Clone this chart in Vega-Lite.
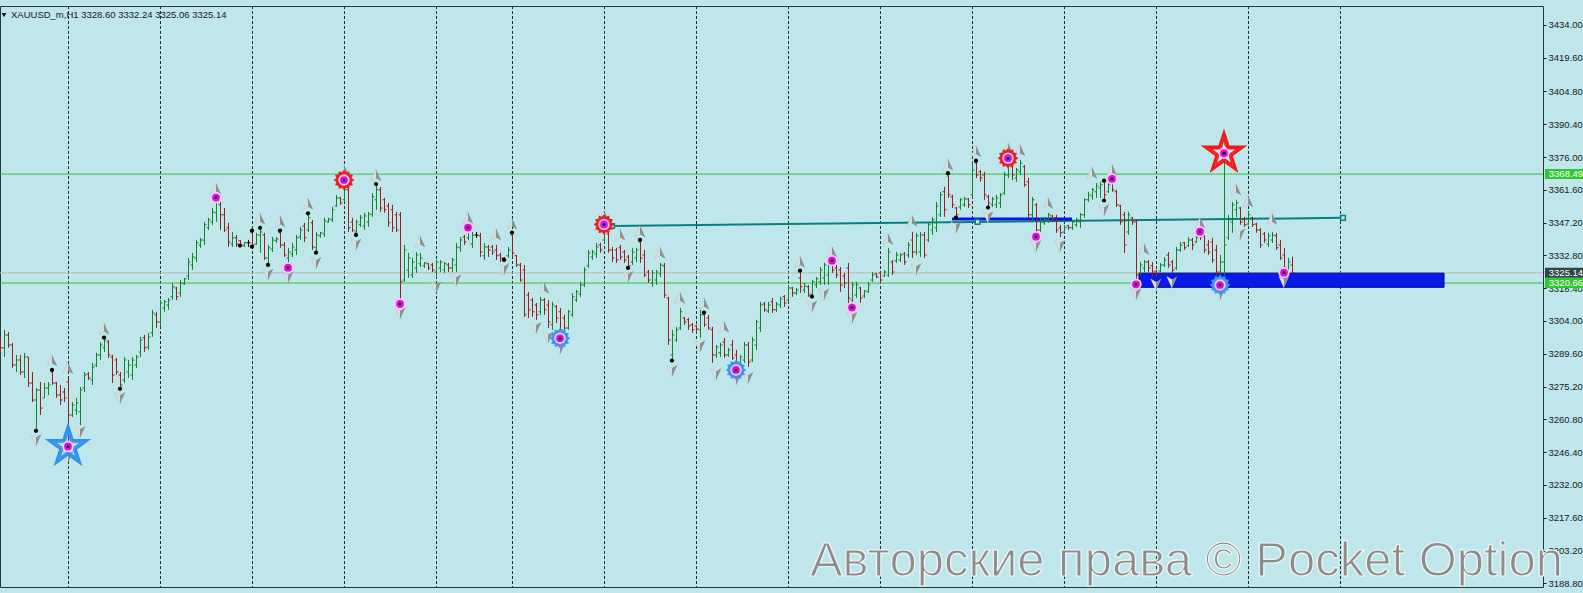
{
"$schema":"https://vega.github.io/schema/vega-lite/v6.json",
"width":1543,"height":581,
"autosize":{"type":"none"},
"padding":{"left":0,"top":6,"right":40,"bottom":6},
"background":"#bfe6ea",
"config":{"view":{"stroke":"#243a3a","strokeWidth":1},"font":"Liberation Sans"},
"resolve":{"axis":{"y":"independent","x":"independent"}},
"datasets":{
"bars":[
{"bar":0,"open":3295.7,"high":3296.6,"low":3290.4,"close":3292.2},
{"bar":1,"open":3292.2,"high":3300.1,"low":3288.2,"close":3297.9},
{"bar":2,"open":3297.9,"high":3299.2,"low":3292.2,"close":3293.5},
{"bar":3,"open":3293.5,"high":3294.4,"low":3283.4,"close":3284.7},
{"bar":4,"open":3284.7,"high":3289.1,"low":3281.6,"close":3286.9},
{"bar":5,"open":3286.9,"high":3289.1,"low":3280.3,"close":3281.6},
{"bar":6,"open":3281.6,"high":3290.0,"low":3279.0,"close":3288.2},
{"bar":7,"open":3288.2,"high":3288.2,"low":3275.0,"close":3276.8},
{"bar":8,"open":3276.8,"high":3281.6,"low":3268.4,"close":3269.3},
{"bar":9,"open":3269.3,"high":3274.6,"low":3255.3,"close":3273.7},
{"bar":10,"open":3273.7,"high":3277.2,"low":3262.7,"close":3265.8},
{"bar":11,"open":3270.2,"high":3276.8,"low":3270.2,"close":3274.6},
{"bar":12,"open":3274.6,"high":3277.2,"low":3271.5,"close":3275.9},
{"bar":13,"open":3281.6,"high":3282.5,"low":3275.9,"close":3276.8},
{"bar":14,"open":3276.8,"high":3277.2,"low":3270.2,"close":3271.5},
{"bar":15,"open":3271.5,"high":3275.9,"low":3267.1,"close":3269.3},
{"bar":16,"open":3272.8,"high":3274.6,"low":3268.4,"close":3270.2},
{"bar":17,"open":3277.2,"high":3279.0,"low":3248.9,"close":3262.7},
{"bar":18,"open":3262.7,"high":3268.4,"low":3261.8,"close":3267.1},
{"bar":19,"open":3264.9,"high":3270.2,"low":3262.7,"close":3268.0},
{"bar":20,"open":3264.1,"high":3275.0,"low":3258.3,"close":3273.7},
{"bar":21,"open":3274.6,"high":3281.6,"low":3272.8,"close":3280.3},
{"bar":22,"open":3280.7,"high":3281.6,"low":3278.1,"close":3279.0},
{"bar":23,"open":3278.1,"high":3285.6,"low":3275.9,"close":3283.8},
{"bar":24,"open":3284.7,"high":3290.0,"low":3283.8,"close":3289.1},
{"bar":25,"open":3289.1,"high":3294.8,"low":3286.9,"close":3293.5},
{"bar":26,"open":3292.2,"high":3296.6,"low":3290.4,"close":3295.7},
{"bar":27,"open":3294.8,"high":3295.7,"low":3287.8,"close":3289.1},
{"bar":28,"open":3288.2,"high":3289.1,"low":3276.8,"close":3280.3},
{"bar":29,"open":3286.9,"high":3287.8,"low":3280.3,"close":3281.6},
{"bar":30,"open":3280.3,"high":3281.6,"low":3274.2,"close":3275.9},
{"bar":31,"open":3278.1,"high":3288.2,"low":3276.8,"close":3286.9},
{"bar":32,"open":3281.6,"high":3286.9,"low":3279.0,"close":3284.7},
{"bar":33,"open":3280.3,"high":3288.2,"low":3278.1,"close":3286.9},
{"bar":34,"open":3284.7,"high":3289.1,"low":3283.4,"close":3288.2},
{"bar":35,"open":3290.4,"high":3297.0,"low":3288.2,"close":3295.7},
{"bar":36,"open":3296.6,"high":3297.9,"low":3290.4,"close":3292.2},
{"bar":37,"open":3292.6,"high":3298.8,"low":3291.3,"close":3297.0},
{"bar":38,"open":3298.8,"high":3308.9,"low":3297.0,"close":3307.5},
{"bar":39,"open":3306.7,"high":3308.0,"low":3300.9,"close":3303.6},
{"bar":40,"open":3303.6,"high":3313.2,"low":3301.4,"close":3311.9},
{"bar":41,"open":3309.7,"high":3313.2,"low":3308.0,"close":3312.4},
{"bar":42,"open":3311.0,"high":3314.1,"low":3308.9,"close":3313.2},
{"bar":43,"open":3314.6,"high":3320.7,"low":3313.2,"close":3319.0},
{"bar":44,"open":3318.5,"high":3319.0,"low":3313.2,"close":3314.6},
{"bar":45,"open":3316.3,"high":3322.0,"low":3314.6,"close":3320.7},
{"bar":46,"open":3320.3,"high":3322.9,"low":3319.8,"close":3322.5},
{"bar":47,"open":3323.8,"high":3331.7,"low":3322.0,"close":3329.9},
{"bar":48,"open":3328.6,"high":3333.9,"low":3326.4,"close":3332.1},
{"bar":49,"open":3331.7,"high":3339.6,"low":3329.9,"close":3338.3},
{"bar":50,"open":3337.4,"high":3340.5,"low":3336.1,"close":3339.6},
{"bar":51,"open":3339.6,"high":3347.5,"low":3337.4,"close":3346.2},
{"bar":52,"open":3344.9,"high":3349.3,"low":3344.0,"close":3348.4},
{"bar":53,"open":3347.5,"high":3353.6,"low":3346.2,"close":3351.9},
{"bar":54,"open":3351.5,"high":3358.5,"low":3347.5,"close":3356.3},
{"bar":55,"open":3355.0,"high":3356.3,"low":3344.0,"close":3350.6},
{"bar":56,"open":3350.6,"high":3353.6,"low":3343.1,"close":3344.0},
{"bar":57,"open":3344.9,"high":3347.1,"low":3336.5,"close":3338.7},
{"bar":58,"open":3337.8,"high":3343.1,"low":3336.5,"close":3340.5},
{"bar":59,"open":3340.5,"high":3341.8,"low":3336.5,"close":3337.8},
{"bar":60,"open":3339.2,"high":3339.6,"low":3337.0,"close":3337.4},
{"bar":61,"open":3337.0,"high":3338.7,"low":3336.5,"close":3338.3},
{"bar":62,"open":3338.3,"high":3339.6,"low":3336.5,"close":3338.3},
{"bar":63,"open":3342.7,"high":3344.0,"low":3336.5,"close":3337.4},
{"bar":64,"open":3337.8,"high":3342.7,"low":3337.4,"close":3341.8},
{"bar":65,"open":3341.8,"high":3344.9,"low":3333.9,"close":3343.1},
{"bar":66,"open":3341.8,"high":3342.7,"low":3330.8,"close":3331.7},
{"bar":67,"open":3331.7,"high":3337.4,"low":3328.6,"close":3336.1},
{"bar":68,"open":3335.6,"high":3340.9,"low":3334.3,"close":3339.6},
{"bar":69,"open":3339.2,"high":3340.9,"low":3338.3,"close":3340.0},
{"bar":70,"open":3342.7,"high":3344.0,"low":3336.1,"close":3337.4},
{"bar":71,"open":3337.4,"high":3338.7,"low":3332.1,"close":3333.0},
{"bar":72,"open":3331.7,"high":3336.1,"low":3327.3,"close":3334.3},
{"bar":73,"open":3333.4,"high":3338.3,"low":3332.1,"close":3336.5},
{"bar":74,"open":3335.2,"high":3341.8,"low":3333.0,"close":3340.5},
{"bar":75,"open":3340.9,"high":3345.3,"low":3339.6,"close":3344.0},
{"bar":76,"open":3345.7,"high":3347.1,"low":3338.7,"close":3340.5},
{"bar":77,"open":3344.0,"high":3351.5,"low":3343.1,"close":3349.3},
{"bar":78,"open":3347.1,"high":3348.4,"low":3335.2,"close":3336.5},
{"bar":79,"open":3336.1,"high":3343.1,"low":3333.9,"close":3341.8},
{"bar":80,"open":3341.4,"high":3343.1,"low":3340.5,"close":3342.7},
{"bar":81,"open":3342.2,"high":3349.3,"low":3340.9,"close":3347.9},
{"bar":82,"open":3347.5,"high":3349.3,"low":3347.1,"close":3348.8},
{"bar":83,"open":3348.4,"high":3354.1,"low":3347.5,"close":3352.8},
{"bar":84,"open":3354.5,"high":3359.4,"low":3354.1,"close":3358.0},
{"bar":85,"open":3358.0,"high":3358.5,"low":3355.0,"close":3355.8},
{"bar":86,"open":3357.2,"high":3365.9,"low":3356.3,"close":3361.6},
{"bar":87,"open":3361.6,"high":3362.4,"low":3343.1,"close":3344.9},
{"bar":88,"open":3347.5,"high":3349.3,"low":3343.1,"close":3344.0},
{"bar":89,"open":3343.1,"high":3348.4,"low":3341.8,"close":3347.5},
{"bar":90,"open":3346.2,"high":3350.6,"low":3345.3,"close":3349.3},
{"bar":91,"open":3345.7,"high":3351.5,"low":3344.0,"close":3350.1},
{"bar":92,"open":3347.5,"high":3351.9,"low":3345.3,"close":3351.0},
{"bar":93,"open":3350.6,"high":3360.2,"low":3349.7,"close":3358.5},
{"bar":94,"open":3357.2,"high":3364.2,"low":3352.8,"close":3361.6},
{"bar":95,"open":3361.6,"high":3362.9,"low":3351.9,"close":3353.6},
{"bar":96,"open":3357.2,"high":3358.0,"low":3351.5,"close":3352.8},
{"bar":97,"open":3354.5,"high":3355.8,"low":3345.3,"close":3347.1},
{"bar":98,"open":3352.8,"high":3355.0,"low":3343.1,"close":3344.9},
{"bar":99,"open":3350.6,"high":3351.9,"low":3343.1,"close":3344.0},
{"bar":100,"open":3350.6,"high":3351.9,"low":3311.5,"close":3321.2},
{"bar":101,"open":3322.0,"high":3337.4,"low":3321.2,"close":3335.2},
{"bar":102,"open":3326.4,"high":3333.9,"low":3322.9,"close":3331.7},
{"bar":103,"open":3324.2,"high":3331.7,"low":3322.9,"close":3329.9},
{"bar":104,"open":3327.3,"high":3334.3,"low":3325.1,"close":3333.0},
{"bar":105,"open":3329.1,"high":3333.9,"low":3327.7,"close":3331.7},
{"bar":106,"open":3328.2,"high":3329.9,"low":3327.3,"close":3329.5},
{"bar":107,"open":3329.1,"high":3329.5,"low":3326.4,"close":3327.3},
{"bar":108,"open":3328.6,"high":3329.5,"low":3325.5,"close":3326.4},
{"bar":109,"open":3325.5,"high":3330.8,"low":3322.9,"close":3329.9},
{"bar":110,"open":3327.3,"high":3330.8,"low":3325.5,"close":3329.9},
{"bar":111,"open":3326.4,"high":3329.9,"low":3325.1,"close":3329.1},
{"bar":112,"open":3328.6,"high":3329.5,"low":3325.5,"close":3327.3},
{"bar":113,"open":3327.3,"high":3331.7,"low":3325.5,"close":3330.8},
{"bar":114,"open":3328.6,"high":3338.3,"low":3325.5,"close":3336.5},
{"bar":115,"open":3336.1,"high":3340.9,"low":3334.3,"close":3339.6},
{"bar":116,"open":3340.9,"high":3341.8,"low":3337.4,"close":3338.7},
{"bar":117,"open":3340.5,"high":3345.3,"low":3339.6,"close":3344.0},
{"bar":118,"open":3337.8,"high":3343.1,"low":3336.1,"close":3341.8},
{"bar":119,"open":3341.8,"high":3343.1,"low":3340.5,"close":3341.8},
{"bar":120,"open":3341.4,"high":3342.7,"low":3332.1,"close":3334.3},
{"bar":121,"open":3332.6,"high":3338.3,"low":3330.8,"close":3336.5},
{"bar":122,"open":3336.5,"high":3337.4,"low":3332.1,"close":3335.2},
{"bar":123,"open":3336.5,"high":3337.4,"low":3333.0,"close":3334.3},
{"bar":124,"open":3335.2,"high":3337.4,"low":3330.8,"close":3332.6},
{"bar":125,"open":3333.0,"high":3333.9,"low":3329.9,"close":3331.7},
{"bar":126,"open":3331.7,"high":3332.1,"low":3329.9,"close":3330.8},
{"bar":127,"open":3332.6,"high":3336.5,"low":3331.7,"close":3335.2},
{"bar":128,"open":3341.8,"high":3343.1,"low":3332.1,"close":3333.9},
{"bar":129,"open":3332.6,"high":3333.0,"low":3327.7,"close":3328.6},
{"bar":130,"open":3328.6,"high":3329.5,"low":3321.2,"close":3322.0},
{"bar":131,"open":3326.4,"high":3328.6,"low":3305.8,"close":3306.7},
{"bar":132,"open":3315.4,"high":3316.8,"low":3305.3,"close":3308.9},
{"bar":133,"open":3313.2,"high":3314.1,"low":3305.8,"close":3308.0},
{"bar":134,"open":3311.0,"high":3311.9,"low":3304.5,"close":3306.7},
{"bar":135,"open":3308.0,"high":3314.6,"low":3306.7,"close":3313.2},
{"bar":136,"open":3313.2,"high":3314.1,"low":3306.7,"close":3308.9},
{"bar":137,"open":3311.0,"high":3313.2,"low":3300.9,"close":3303.6},
{"bar":138,"open":3302.3,"high":3312.4,"low":3300.1,"close":3311.0},
{"bar":139,"open":3310.2,"high":3311.0,"low":3303.1,"close":3305.3},
{"bar":140,"open":3308.0,"high":3309.7,"low":3296.4,"close":3300.1},
{"bar":141,"open":3305.3,"high":3306.7,"low":3299.2,"close":3300.9},
{"bar":142,"open":3300.9,"high":3308.9,"low":3300.1,"close":3308.0},
{"bar":143,"open":3306.7,"high":3316.3,"low":3305.8,"close":3314.6},
{"bar":144,"open":3313.2,"high":3317.6,"low":3312.4,"close":3316.8},
{"bar":145,"open":3315.9,"high":3321.2,"low":3314.6,"close":3319.8},
{"bar":146,"open":3319.8,"high":3327.7,"low":3319.0,"close":3326.4},
{"bar":147,"open":3328.2,"high":3335.2,"low":3327.3,"close":3333.9},
{"bar":148,"open":3332.1,"high":3335.2,"low":3330.8,"close":3334.3},
{"bar":149,"open":3333.4,"high":3338.3,"low":3331.7,"close":3336.5},
{"bar":150,"open":3337.4,"high":3338.3,"low":3333.9,"close":3335.2},
{"bar":151,"open":3339.6,"high":3346.4,"low":3338.3,"close":3344.9},
{"bar":152,"open":3342.2,"high":3343.1,"low":3333.9,"close":3335.2},
{"bar":153,"open":3335.2,"high":3336.5,"low":3329.9,"close":3331.7},
{"bar":154,"open":3335.2,"high":3336.1,"low":3329.5,"close":3330.8},
{"bar":155,"open":3336.1,"high":3337.4,"low":3330.8,"close":3332.1},
{"bar":156,"open":3334.3,"high":3335.2,"low":3329.5,"close":3330.8},
{"bar":157,"open":3332.1,"high":3333.0,"low":3327.3,"close":3328.2},
{"bar":158,"open":3329.9,"high":3336.1,"low":3328.6,"close":3334.3},
{"bar":159,"open":3331.7,"high":3336.1,"low":3329.9,"close":3335.2},
{"bar":160,"open":3338.7,"high":3340.0,"low":3329.5,"close":3331.7},
{"bar":161,"open":3333.0,"high":3335.2,"low":3323.3,"close":3324.2},
{"bar":162,"open":3325.5,"high":3326.4,"low":3320.7,"close":3322.0},
{"bar":163,"open":3320.7,"high":3326.4,"low":3319.0,"close":3325.1},
{"bar":164,"open":3322.0,"high":3326.4,"low":3319.8,"close":3325.5},
{"bar":165,"open":3324.7,"high":3329.5,"low":3323.3,"close":3328.6},
{"bar":166,"open":3328.2,"high":3329.5,"low":3314.1,"close":3315.4},
{"bar":167,"open":3314.1,"high":3314.6,"low":3293.5,"close":3295.7},
{"bar":168,"open":3289.1,"high":3300.1,"low":3286.5,"close":3297.9},
{"bar":169,"open":3295.7,"high":3301.4,"low":3294.8,"close":3300.1},
{"bar":170,"open":3300.9,"high":3309.7,"low":3300.1,"close":3308.0},
{"bar":171,"open":3305.3,"high":3305.8,"low":3302.3,"close":3303.6},
{"bar":172,"open":3304.5,"high":3305.3,"low":3300.1,"close":3301.8},
{"bar":173,"open":3302.3,"high":3303.1,"low":3298.8,"close":3300.1},
{"bar":174,"open":3301.8,"high":3302.3,"low":3298.8,"close":3300.5},
{"bar":175,"open":3300.1,"high":3308.9,"low":3296.6,"close":3306.7},
{"bar":176,"open":3306.7,"high":3308.0,"low":3301.4,"close":3302.3},
{"bar":177,"open":3305.3,"high":3306.7,"low":3300.1,"close":3300.9},
{"bar":178,"open":3300.1,"high":3301.4,"low":3285.6,"close":3289.1},
{"bar":179,"open":3289.1,"high":3293.5,"low":3287.8,"close":3292.6},
{"bar":180,"open":3290.0,"high":3294.4,"low":3288.2,"close":3293.5},
{"bar":181,"open":3294.8,"high":3296.6,"low":3287.8,"close":3289.1},
{"bar":182,"open":3289.1,"high":3292.2,"low":3288.2,"close":3291.3},
{"bar":183,"open":3293.5,"high":3295.7,"low":3286.9,"close":3287.8},
{"bar":184,"open":3289.1,"high":3291.3,"low":3282.5,"close":3286.0},
{"bar":185,"open":3285.6,"high":3289.1,"low":3284.7,"close":3288.2},
{"bar":186,"open":3286.9,"high":3294.8,"low":3285.6,"close":3293.5},
{"bar":187,"open":3293.5,"high":3294.8,"low":3283.8,"close":3286.0},
{"bar":188,"open":3286.9,"high":3297.0,"low":3286.0,"close":3295.7},
{"bar":189,"open":3293.5,"high":3304.5,"low":3291.3,"close":3303.6},
{"bar":190,"open":3300.9,"high":3312.4,"low":3299.2,"close":3311.0},
{"bar":191,"open":3311.5,"high":3312.4,"low":3308.0,"close":3308.9},
{"bar":192,"open":3308.4,"high":3312.4,"low":3307.5,"close":3311.0},
{"bar":193,"open":3312.4,"high":3314.1,"low":3307.5,"close":3308.9},
{"bar":194,"open":3308.9,"high":3312.4,"low":3308.0,"close":3311.5},
{"bar":195,"open":3311.0,"high":3314.6,"low":3309.7,"close":3313.7},
{"bar":196,"open":3314.6,"high":3315.4,"low":3310.2,"close":3311.9},
{"bar":197,"open":3313.2,"high":3319.8,"low":3312.4,"close":3318.5},
{"bar":198,"open":3318.5,"high":3319.0,"low":3314.6,"close":3316.3},
{"bar":199,"open":3316.3,"high":3318.5,"low":3315.4,"close":3317.6},
{"bar":200,"open":3322.9,"high":3326.1,"low":3316.3,"close":3319.0},
{"bar":201,"open":3317.6,"high":3320.7,"low":3316.3,"close":3319.4},
{"bar":202,"open":3319.0,"high":3319.8,"low":3314.6,"close":3315.4},
{"bar":203,"open":3315.9,"high":3322.0,"low":3314.6,"close":3321.2},
{"bar":204,"open":3319.8,"high":3323.3,"low":3318.5,"close":3322.5},
{"bar":205,"open":3321.2,"high":3327.7,"low":3319.8,"close":3326.4},
{"bar":206,"open":3322.9,"high":3329.5,"low":3319.8,"close":3328.6},
{"bar":207,"open":3324.2,"high":3329.9,"low":3319.8,"close":3329.1},
{"bar":208,"open":3329.9,"high":3330.8,"low":3325.1,"close":3326.4},
{"bar":209,"open":3327.3,"high":3328.6,"low":3322.9,"close":3324.2},
{"bar":210,"open":3326.4,"high":3327.7,"low":3316.8,"close":3319.8},
{"bar":211,"open":3323.8,"high":3325.1,"low":3318.5,"close":3320.7},
{"bar":212,"open":3327.3,"high":3329.5,"low":3311.9,"close":3314.1},
{"bar":213,"open":3313.2,"high":3321.2,"low":3309.7,"close":3319.8},
{"bar":214,"open":3315.4,"high":3321.2,"low":3314.1,"close":3319.8},
{"bar":215,"open":3318.5,"high":3319.0,"low":3311.9,"close":3314.1},
{"bar":216,"open":3315.0,"high":3317.6,"low":3314.1,"close":3317.2},
{"bar":217,"open":3316.8,"high":3321.2,"low":3316.3,"close":3319.8},
{"bar":218,"open":3322.0,"high":3325.5,"low":3321.2,"close":3324.2},
{"bar":219,"open":3324.7,"high":3325.1,"low":3322.9,"close":3323.3},
{"bar":220,"open":3325.1,"high":3325.5,"low":3320.7,"close":3322.0},
{"bar":221,"open":3323.8,"high":3326.4,"low":3323.3,"close":3325.5},
{"bar":222,"open":3324.2,"high":3336.1,"low":3323.3,"close":3334.3},
{"bar":223,"open":3329.9,"high":3330.8,"low":3324.2,"close":3325.5},
{"bar":224,"open":3330.4,"high":3334.3,"low":3329.5,"close":3333.0},
{"bar":225,"open":3330.8,"high":3333.9,"low":3329.9,"close":3333.0},
{"bar":226,"open":3333.4,"high":3334.3,"low":3328.6,"close":3329.9},
{"bar":227,"open":3333.0,"high":3338.7,"low":3331.7,"close":3337.4},
{"bar":228,"open":3339.6,"high":3343.1,"low":3331.7,"close":3334.3},
{"bar":229,"open":3334.3,"high":3342.7,"low":3333.0,"close":3341.4},
{"bar":230,"open":3334.3,"high":3343.1,"low":3332.1,"close":3341.8},
{"bar":231,"open":3341.8,"high":3343.1,"low":3331.7,"close":3333.0},
{"bar":232,"open":3339.6,"high":3347.5,"low":3338.7,"close":3346.2},
{"bar":233,"open":3344.0,"high":3349.7,"low":3341.8,"close":3348.4},
{"bar":234,"open":3344.9,"high":3356.3,"low":3343.1,"close":3354.5},
{"bar":235,"open":3350.6,"high":3360.7,"low":3349.7,"close":3359.4},
{"bar":236,"open":3360.7,"high":3362.9,"low":3349.7,"close":3352.8},
{"bar":237,"open":3367.7,"high":3369.0,"low":3358.0,"close":3359.4},
{"bar":238,"open":3358.5,"high":3359.4,"low":3353.6,"close":3355.0},
{"bar":239,"open":3353.6,"high":3354.1,"low":3349.3,"close":3350.6},
{"bar":240,"open":3354.1,"high":3358.0,"low":3352.8,"close":3357.2},
{"bar":241,"open":3355.0,"high":3358.5,"low":3354.1,"close":3357.6},
{"bar":242,"open":3357.6,"high":3358.0,"low":3353.6,"close":3355.0},
{"bar":243,"open":3359.4,"high":3373.9,"low":3358.5,"close":3370.3},
{"bar":244,"open":3373.4,"high":3374.7,"low":3366.8,"close":3368.1},
{"bar":245,"open":3369.5,"high":3370.3,"low":3365.1,"close":3366.8},
{"bar":246,"open":3368.1,"high":3369.5,"low":3357.2,"close":3359.4},
{"bar":247,"open":3358.5,"high":3359.4,"low":3353.6,"close":3355.8},
{"bar":248,"open":3355.0,"high":3358.5,"low":3354.1,"close":3357.6},
{"bar":249,"open":3355.0,"high":3359.4,"low":3353.6,"close":3358.0},
{"bar":250,"open":3355.8,"high":3360.2,"low":3353.6,"close":3359.4},
{"bar":251,"open":3360.2,"high":3369.5,"low":3359.4,"close":3368.1},
{"bar":252,"open":3368.1,"high":3375.6,"low":3366.8,"close":3372.5},
{"bar":253,"open":3371.7,"high":3372.5,"low":3365.9,"close":3368.1},
{"bar":254,"open":3366.8,"high":3371.2,"low":3365.1,"close":3370.3},
{"bar":255,"open":3369.5,"high":3374.7,"low":3368.1,"close":3373.4},
{"bar":256,"open":3371.7,"high":3372.5,"low":3362.9,"close":3363.8},
{"bar":257,"open":3365.1,"high":3366.8,"low":3349.3,"close":3350.6},
{"bar":258,"open":3350.6,"high":3358.5,"low":3348.4,"close":3357.2},
{"bar":259,"open":3355.0,"high":3355.8,"low":3341.0,"close":3344.0},
{"bar":260,"open":3344.0,"high":3349.3,"low":3343.1,"close":3347.5},
{"bar":261,"open":3347.1,"high":3349.7,"low":3346.2,"close":3348.4},
{"bar":262,"open":3348.4,"high":3351.5,"low":3347.1,"close":3350.6},
{"bar":263,"open":3350.1,"high":3350.6,"low":3347.5,"close":3348.4},
{"bar":264,"open":3349.3,"high":3350.6,"low":3342.7,"close":3344.0},
{"bar":265,"open":3344.9,"high":3346.2,"low":3340.9,"close":3342.7},
{"bar":266,"open":3343.1,"high":3346.2,"low":3342.7,"close":3344.9},
{"bar":267,"open":3345.7,"high":3346.2,"low":3344.0,"close":3344.9},
{"bar":268,"open":3344.9,"high":3348.4,"low":3344.0,"close":3347.5},
{"bar":269,"open":3346.2,"high":3349.3,"low":3345.3,"close":3348.4},
{"bar":270,"open":3347.5,"high":3351.5,"low":3344.9,"close":3350.6},
{"bar":271,"open":3350.6,"high":3358.0,"low":3349.3,"close":3357.2},
{"bar":272,"open":3357.2,"high":3360.7,"low":3356.3,"close":3359.4},
{"bar":273,"open":3358.9,"high":3362.4,"low":3357.2,"close":3361.6},
{"bar":274,"open":3360.7,"high":3364.6,"low":3358.0,"close":3363.3},
{"bar":275,"open":3362.4,"high":3365.1,"low":3358.0,"close":3363.8},
{"bar":276,"open":3365.1,"high":3365.9,"low":3356.7,"close":3359.4},
{"bar":277,"open":3360.7,"high":3364.6,"low":3360.2,"close":3363.8},
{"bar":278,"open":3365.1,"high":3366.4,"low":3360.7,"close":3361.6},
{"bar":279,"open":3360.7,"high":3361.6,"low":3354.1,"close":3355.0},
{"bar":280,"open":3354.5,"high":3355.0,"low":3346.2,"close":3347.5},
{"bar":281,"open":3350.6,"high":3351.9,"low":3333.9,"close":3337.4},
{"bar":282,"open":3343.1,"high":3351.9,"low":3341.8,"close":3350.6},
{"bar":283,"open":3349.3,"high":3349.7,"low":3346.2,"close":3347.5},
{"bar":284,"open":3347.5,"high":3348.4,"low":3320.1,"close":3324.2},
{"bar":285,"open":3325.1,"high":3329.9,"low":3324.2,"close":3328.6},
{"bar":286,"open":3327.3,"high":3330.8,"low":3325.5,"close":3329.9},
{"bar":287,"open":3329.9,"high":3330.8,"low":3325.5,"close":3327.3},
{"bar":288,"open":3328.2,"high":3329.9,"low":3323.3,"close":3325.5},
{"bar":289,"open":3326.0,"high":3326.4,"low":3323.3,"close":3324.7},
{"bar":290,"open":3326.0,"high":3329.5,"low":3325.5,"close":3328.6},
{"bar":291,"open":3328.6,"high":3332.1,"low":3327.7,"close":3330.8},
{"bar":292,"open":3333.0,"high":3334.3,"low":3327.3,"close":3328.6},
{"bar":293,"open":3329.9,"high":3330.8,"low":3325.1,"close":3326.4},
{"bar":294,"open":3327.3,"high":3336.5,"low":3326.4,"close":3335.2},
{"bar":295,"open":3335.2,"high":3338.7,"low":3334.3,"close":3337.4},
{"bar":296,"open":3338.3,"high":3338.7,"low":3335.2,"close":3336.1},
{"bar":297,"open":3337.0,"high":3340.9,"low":3336.5,"close":3339.6},
{"bar":298,"open":3339.6,"high":3340.5,"low":3335.2,"close":3337.4},
{"bar":299,"open":3338.7,"high":3342.7,"low":3338.3,"close":3340.9},
{"bar":300,"open":3342.7,"high":3343.2,"low":3339.6,"close":3340.9},
{"bar":301,"open":3341.4,"high":3342.7,"low":3333.9,"close":3335.2},
{"bar":302,"open":3337.4,"high":3339.6,"low":3333.0,"close":3334.3},
{"bar":303,"open":3338.7,"high":3340.5,"low":3329.5,"close":3330.8},
{"bar":304,"open":3335.2,"high":3337.4,"low":3322.9,"close":3325.5},
{"bar":305,"open":3325.5,"high":3333.0,"low":3319.8,"close":3329.9},
{"bar":306,"open":3329.9,"high":3377.7,"low":3324.2,"close":3337.4},
{"bar":307,"open":3340.5,"high":3350.6,"low":3339.6,"close":3348.4},
{"bar":308,"open":3347.5,"high":3356.3,"low":3342.7,"close":3355.0},
{"bar":309,"open":3352.8,"high":3357.2,"low":3349.7,"close":3355.8},
{"bar":310,"open":3353.6,"high":3354.1,"low":3346.2,"close":3347.5},
{"bar":311,"open":3348.4,"high":3349.7,"low":3345.3,"close":3346.2},
{"bar":312,"open":3346.6,"high":3351.9,"low":3346.2,"close":3350.6},
{"bar":313,"open":3349.3,"high":3349.7,"low":3345.3,"close":3346.2},
{"bar":314,"open":3346.6,"high":3347.1,"low":3342.7,"close":3344.0},
{"bar":315,"open":3344.0,"high":3344.9,"low":3336.1,"close":3337.4},
{"bar":316,"open":3342.2,"high":3343.1,"low":3338.3,"close":3339.6},
{"bar":317,"open":3337.8,"high":3342.7,"low":3336.5,"close":3341.4},
{"bar":318,"open":3339.6,"high":3343.1,"low":3338.3,"close":3341.8},
{"bar":319,"open":3341.4,"high":3342.7,"low":3335.2,"close":3336.1},
{"bar":320,"open":3337.4,"high":3339.6,"low":3330.8,"close":3331.7},
{"bar":321,"open":3333.0,"high":3336.1,"low":3325.2,"close":3327.3},
{"bar":322,"open":3326.4,"high":3331.7,"low":3325.1,"close":3329.9},
{"bar":323,"open":3328.60,"high":3332.24,"low":3325.06,"close":3325.14}
],
"grid":[{"bar":17},{"bar":40},{"bar":63},{"bar":86},{"bar":109},{"bar":128},{"bar":151},{"bar":174},{"bar":197},{"bar":220},{"bar":243},{"bar":266},{"bar":289},{"bar":312},{"bar":335}],
"levels":[{"price":3368.49},{"price":3320.66}],
"bid":[{"price":3325.14}],
"zone":[{"bar":284.75,"bar2":361,"price":3325.0,"price2":3318.8}],
"trend":[{"bar":153,"price":3345.7},{"bar":335.75,"price":3349.3}],
"trendpts":[{"bar":153,"price":3345.7},{"bar":244.4,"price":3347.5},{"bar":335.75,"price":3349.3}],
"blueline":[{"bar":238,"price":3348.8},{"bar":268,"price":3348.8}],
"up":[{"bar":13,"price":3286.5},{"bar":17,"price":3283.2},{"bar":26,"price":3300.5},{"bar":54,"price":3361.9},{"bar":65,"price":3348.7},{"bar":70,"price":3347.6},{"bar":77,"price":3355.3},{"bar":86,"price":3369.9},{"bar":94,"price":3367.8},{"bar":105,"price":3338.8},{"bar":117,"price":3349.1},{"bar":124,"price":3341.8},{"bar":128,"price":3346.6},{"bar":136,"price":3318.4},{"bar":151,"price":3350.1},{"bar":155,"price":3341.8},{"bar":160,"price":3343.2},{"bar":165,"price":3333.8},{"bar":170,"price":3314.0},{"bar":176,"price":3311.5},{"bar":181,"price":3301.3},{"bar":200,"price":3329.8},{"bar":208,"price":3334.2},{"bar":222,"price":3339.9},{"bar":228,"price":3347.9},{"bar":237,"price":3372.5},{"bar":244,"price":3378.4},{"bar":252,"price":3379.6},{"bar":255,"price":3378.8},{"bar":262,"price":3355.7},{"bar":273,"price":3368.9},{"bar":278,"price":3370.0},{"bar":286,"price":3335.5},{"bar":300,"price":3346.9},{"bar":306,"price":3382.2},{"bar":309,"price":3361.6},{"bar":312,"price":3356.4},{"bar":318,"price":3348.7}],
"down":[{"bar":9,"price":3251.8},{"bar":17,"price":3244.4},{"bar":20,"price":3255.4},{"bar":30,"price":3270.3},{"bar":67,"price":3324.5},{"bar":72,"price":3323.2},{"bar":79,"price":3329.6},{"bar":89,"price":3337.7},{"bar":100,"price":3307.4},{"bar":109,"price":3318.8},{"bar":114,"price":3322.0},{"bar":126,"price":3326.9},{"bar":134,"price":3301.1},{"bar":137,"price":3296.9},{"bar":140,"price":3292.0},{"bar":157,"price":3323.5},{"bar":168,"price":3282.2},{"bar":175,"price":3293.0},{"bar":179,"price":3280.7},{"bar":184,"price":3278.4},{"bar":187,"price":3279.1},{"bar":203,"price":3310.6},{"bar":206,"price":3315.9},{"bar":213,"price":3305.6},{"bar":229,"price":3326.9},{"bar":239,"price":3345.1},{"bar":247,"price":3349.7},{"bar":259,"price":3337.1},{"bar":265,"price":3337.1},{"bar":276,"price":3352.8},{"bar":284,"price":3315.9},{"bar":289,"price":3320.0},{"bar":293,"price":3321.1},{"bar":305,"price":3315.9},{"bar":310,"price":3342.2},{"bar":321,"price":3321.3}],
"dots":[{"bar":9,"price":3255.8},{"bar":13,"price":3282.5},{"bar":26,"price":3296.7},{"bar":30,"price":3274.2},{"bar":60,"price":3337.1},{"bar":63,"price":3343.7},{"bar":63,"price":3336.6},{"bar":65,"price":3344.9},{"bar":67,"price":3328.6},{"bar":70,"price":3343.7},{"bar":77,"price":3351.3},{"bar":79,"price":3334.0},{"bar":89,"price":3341.8},{"bar":94,"price":3364.1},{"bar":126,"price":3330.8},{"bar":128,"price":3342.8},{"bar":157,"price":3327.3},{"bar":160,"price":3339.6},{"bar":168,"price":3286.6},{"bar":176,"price":3307.7},{"bar":200,"price":3326.1},{"bar":203,"price":3314.7},{"bar":237,"price":3368.9},{"bar":239,"price":3349.4},{"bar":244,"price":3374.4},{"bar":247,"price":3353.8},{"bar":276,"price":3365.6},{"bar":276,"price":3356.9}],
"mag":[{"bar":17,"price":3248.9},{"bar":54,"price":3358.2},{"bar":72,"price":3327.4},{"bar":86,"price":3365.9},{"bar":100,"price":3311.5},{"bar":117,"price":3345.0},{"bar":140,"price":3296.4},{"bar":151,"price":3346.4},{"bar":184,"price":3282.5},{"bar":208,"price":3330.5},{"bar":213,"price":3309.9},{"bar":252,"price":3375.5},{"bar":259,"price":3341.0},{"bar":278,"price":3366.4},{"bar":284,"price":3320.1},{"bar":300,"price":3343.2},{"bar":305,"price":3319.8},{"bar":306,"price":3377.7},{"bar":321,"price":3325.2}],
"redgear":[{"bar":86,"price":3365.9},{"bar":151,"price":3346.4},{"bar":252,"price":3375.5}],
"bluegear":[{"bar":140,"price":3296.4},{"bar":184,"price":3282.5},{"bar":305,"price":3319.8}],
"bluestar":[{"bar":17,"price":3248.9}],
"redstar":[{"bar":306,"price":3377.7}],
"tags":[{"price":3368.49,"label":"3368.49","kind":"level"},{"price":3325.14,"label":"3325.14","kind":"bid"},{"price":3320.66,"label":"3320.66","kind":"level"}],
"title":[{"label":"XAUUSD_m,H1  3328.60 3332.24 3325.06 3325.14"}],
"mark":[{"label":"Авторские права © Pocket Option"}]
},
"layer":[
{"data":{"name":"grid"},"mark":{"type":"rule","color":"#1d3030","strokeDash":[3,2],"strokeWidth":1,"xOffset":0.5},
 "encoding":{"x":{"field":"bar","type":"quantitative","scale":{"domain":[0,385.75],"nice":false,"zero":false},"axis":null}}},
{"data":{"name":"levels"},"mark":{"type":"rule","color":"#35c435","strokeWidth":1},
 "encoding":{"y":{"field":"price","type":"quantitative","scale":{"domain":[3187.2,3442.3],"nice":false,"zero":false},
  "axis":{"orient":"right","values":[3434.0,3419.6,3404.8,3390.4,3376.0,3361.6,3347.2,3332.8,3318.4,3304.0,3289.6,3275.2,3260.8,3246.4,3232.0,3217.6,3203.2,3188.8],"format":".2f","title":null,"grid":false,"domain":false,"labelFont":"Liberation Sans","labelFontSize":9.5,"labelColor":"#1a1a1a","tickColor":"#1a1a1a","tickSize":3,"labelPadding":2,"labelOverlap":false,"labelFlush":false,"labelBound":false}}}},
{"data":{"name":"bid"},"mark":{"type":"rule","color":"#b9b9b9","strokeWidth":1},
 "encoding":{"y":{"field":"price","type":"quantitative","scale":{"domain":[3187.2,3442.3],"nice":false,"zero":false},"axis":null}}},
{"data":{"name":"zone"},"mark":{"type":"rect","color":"#0a1ae6","stroke":"#00008c","strokeWidth":1},
 "encoding":{"x":{"field":"bar","type":"quantitative","scale":{"domain":[0,385.75],"nice":false,"zero":false},"axis":null},"x2":{"field":"bar2"},
  "y":{"field":"price","type":"quantitative","scale":{"domain":[3187.2,3442.3],"nice":false,"zero":false},"axis":null},"y2":{"field":"price2"}}},
{"data":{"name":"trend"},"mark":{"type":"line","color":"#088080","strokeWidth":2},
 "encoding":{"x":{"field":"bar","type":"quantitative","scale":{"domain":[0,385.75],"nice":false,"zero":false},"axis":null},
  "y":{"field":"price","type":"quantitative","scale":{"domain":[3187.2,3442.3],"nice":false,"zero":false},"axis":null}}},
{"data":{"name":"blueline"},"mark":{"type":"line","color":"#0a14e0","strokeWidth":3},
 "encoding":{"x":{"field":"bar","type":"quantitative","scale":{"domain":[0,385.75],"nice":false,"zero":false},"axis":null},
  "y":{"field":"price","type":"quantitative","scale":{"domain":[3187.2,3442.3],"nice":false,"zero":false},"axis":null}}},
{"data":{"name":"trendpts"},"mark":{"type":"point","shape":"square","size":22,"filled":true,"fill":"#bfe6ea","stroke":"#088080","strokeWidth":1.5,"opacity":1},
 "encoding":{"x":{"field":"bar","type":"quantitative","scale":{"domain":[0,385.75],"nice":false,"zero":false},"axis":null},
  "y":{"field":"price","type":"quantitative","scale":{"domain":[3187.2,3442.3],"nice":false,"zero":false},"axis":null}}},
{"data":{"name":"bars"},"mark":{"type":"rule","strokeWidth":1,"xOffset":0.5},
 "encoding":{"x":{"field":"bar","type":"quantitative","scale":{"domain":[0,385.75],"nice":false,"zero":false},"axis":null},
  "y":{"field":"low","type":"quantitative","scale":{"domain":[3187.2,3442.3],"nice":false,"zero":false},"axis":null},"y2":{"field":"high"},
  "color":{"condition":[{"test":"datum.close > datum.open","value":"#12862a"},{"test":"datum.close < datum.open","value":"#9a2020"}],"value":"#000000"}}},
{"data":{"name":"bars"},"mark":{"type":"tick","orient":"horizontal","size":1.5,"thickness":1,"xOffset":-0.75,"opacity":1},
 "encoding":{"x":{"field":"bar","type":"quantitative","scale":{"domain":[0,385.75],"nice":false,"zero":false},"axis":null},
  "y":{"field":"open","type":"quantitative","scale":{"domain":[3187.2,3442.3],"nice":false,"zero":false},"axis":null},
  "color":{"condition":[{"test":"datum.close > datum.open","value":"#12862a"},{"test":"datum.close < datum.open","value":"#9a2020"}],"value":"#000000"}}},
{"data":{"name":"bars"},"mark":{"type":"tick","orient":"horizontal","size":1.5,"thickness":1,"xOffset":1.75,"opacity":1},
 "encoding":{"x":{"field":"bar","type":"quantitative","scale":{"domain":[0,385.75],"nice":false,"zero":false},"axis":null},
  "y":{"field":"close","type":"quantitative","scale":{"domain":[3187.2,3442.3],"nice":false,"zero":false},"axis":null},
  "color":{"condition":[{"test":"datum.close > datum.open","value":"#12862a"},{"test":"datum.close < datum.open","value":"#9a2020"}],"value":"#000000"}}},
{"data":{"name":"up"},"mark":{"type":"point","shape":"M0,-1L0.85,0.9L0,0.4L-0.85,0.9Z","size":160,"filled":true,"color":"#8a9292","strokeWidth":0,"opacity":1},
 "encoding":{"x":{"field":"bar","type":"quantitative","scale":{"domain":[0,385.75],"nice":false,"zero":false},"axis":null},
  "y":{"field":"price","type":"quantitative","scale":{"domain":[3187.2,3442.3],"nice":false,"zero":false},"axis":null}}},
{"data":{"name":"up"},"mark":{"type":"point","shape":"M0,-1L0,0.4L-0.85,0.9Z","size":160,"filled":true,"color":"#d9dede","strokeWidth":0,"opacity":1},
 "encoding":{"x":{"field":"bar","type":"quantitative","scale":{"domain":[0,385.75],"nice":false,"zero":false},"axis":null},
  "y":{"field":"price","type":"quantitative","scale":{"domain":[3187.2,3442.3],"nice":false,"zero":false},"axis":null}}},
{"data":{"name":"down"},"mark":{"type":"point","shape":"M0,1L0.85,-0.9L0,-0.4L-0.85,-0.9Z","size":160,"filled":true,"color":"#8a9292","strokeWidth":0,"opacity":1},
 "encoding":{"x":{"field":"bar","type":"quantitative","scale":{"domain":[0,385.75],"nice":false,"zero":false},"axis":null},
  "y":{"field":"price","type":"quantitative","scale":{"domain":[3187.2,3442.3],"nice":false,"zero":false},"axis":null}}},
{"data":{"name":"down"},"mark":{"type":"point","shape":"M0,1L0,-0.4L-0.85,-0.9Z","size":160,"filled":true,"color":"#d9dede","strokeWidth":0,"opacity":1},
 "encoding":{"x":{"field":"bar","type":"quantitative","scale":{"domain":[0,385.75],"nice":false,"zero":false},"axis":null},
  "y":{"field":"price","type":"quantitative","scale":{"domain":[3187.2,3442.3],"nice":false,"zero":false},"axis":null}}},
{"data":{"name":"dots"},"mark":{"type":"point","shape":"circle","size":18,"filled":true,"color":"#000000","opacity":1},
 "encoding":{"x":{"field":"bar","type":"quantitative","scale":{"domain":[0,385.75],"nice":false,"zero":false},"axis":null},
  "y":{"field":"price","type":"quantitative","scale":{"domain":[3187.2,3442.3],"nice":false,"zero":false},"axis":null}}},
{"data":{"name":"redgear"},"mark":{"type":"point","shape":"M1,0L0.753,0.202L0.866,0.5L0.552,0.552L0.5,0.866L0.202,0.753L0,1L-0.202,0.753L-0.5,0.866L-0.552,0.552L-0.866,0.5L-0.753,0.202L-1,0L-0.753,-0.202L-0.866,-0.5L-0.552,-0.552L-0.5,-0.866L-0.202,-0.753L0,-1L0.202,-0.753L0.5,-0.866L0.552,-0.552L0.866,-0.5L0.753,-0.202Z","size":420,"filled":true,"color":"#e82020","strokeWidth":0,"opacity":1},
 "encoding":{"x":{"field":"bar","type":"quantitative","scale":{"domain":[0,385.75],"nice":false,"zero":false},"axis":null},
  "y":{"field":"price","type":"quantitative","scale":{"domain":[3187.2,3442.3],"nice":false,"zero":false},"axis":null}}},
{"data":{"name":"bluegear"},"mark":{"type":"point","shape":"M1,0L0.753,0.202L0.866,0.5L0.552,0.552L0.5,0.866L0.202,0.753L0,1L-0.202,0.753L-0.5,0.866L-0.552,0.552L-0.866,0.5L-0.753,0.202L-1,0L-0.753,-0.202L-0.866,-0.5L-0.552,-0.552L-0.5,-0.866L-0.202,-0.753L0,-1L0.202,-0.753L0.5,-0.866L0.552,-0.552L0.866,-0.5L0.753,-0.202Z","size":420,"filled":true,"color":"#3a98f0","strokeWidth":0,"opacity":1},
 "encoding":{"x":{"field":"bar","type":"quantitative","scale":{"domain":[0,385.75],"nice":false,"zero":false},"axis":null},
  "y":{"field":"price","type":"quantitative","scale":{"domain":[3187.2,3442.3],"nice":false,"zero":false},"axis":null}}},
{"data":{"name":"bluestar"},"mark":{"type":"point","shape":"M0,-1L0.225,-0.309L0.951,-0.309L0.363,0.118L0.588,0.809L0,0.382L-0.588,0.809L-0.363,0.118L-0.951,-0.309L-0.225,-0.309Z","size":1681,"filled":false,"color":"#2f8ff0","strokeWidth":2.5,"opacity":1},
 "encoding":{"x":{"field":"bar","type":"quantitative","scale":{"domain":[0,385.75],"nice":false,"zero":false},"axis":null},
  "y":{"field":"price","type":"quantitative","scale":{"domain":[3187.2,3442.3],"nice":false,"zero":false},"axis":null}}},
{"data":{"name":"bluestar"},"mark":{"type":"point","shape":"M0,-1L0.225,-0.309L0.951,-0.309L0.363,0.118L0.588,0.809L0,0.382L-0.588,0.809L-0.363,0.118L-0.951,-0.309L-0.225,-0.309Z","size":800,"filled":false,"color":"#2f8ff0","strokeWidth":1.5,"opacity":1},
 "encoding":{"x":{"field":"bar","type":"quantitative","scale":{"domain":[0,385.75],"nice":false,"zero":false},"axis":null},
  "y":{"field":"price","type":"quantitative","scale":{"domain":[3187.2,3442.3],"nice":false,"zero":false},"axis":null}}},
{"data":{"name":"redstar"},"mark":{"type":"point","shape":"M0,-1L0.225,-0.309L0.951,-0.309L0.363,0.118L0.588,0.809L0,0.382L-0.588,0.809L-0.363,0.118L-0.951,-0.309L-0.225,-0.309Z","size":1681,"filled":false,"color":"#f01818","strokeWidth":2.5,"opacity":1},
 "encoding":{"x":{"field":"bar","type":"quantitative","scale":{"domain":[0,385.75],"nice":false,"zero":false},"axis":null},
  "y":{"field":"price","type":"quantitative","scale":{"domain":[3187.2,3442.3],"nice":false,"zero":false},"axis":null}}},
{"data":{"name":"redstar"},"mark":{"type":"point","shape":"M0,-1L0.225,-0.309L0.951,-0.309L0.363,0.118L0.588,0.809L0,0.382L-0.588,0.809L-0.363,0.118L-0.951,-0.309L-0.225,-0.309Z","size":800,"filled":false,"color":"#f01818","strokeWidth":1.5,"opacity":1},
 "encoding":{"x":{"field":"bar","type":"quantitative","scale":{"domain":[0,385.75],"nice":false,"zero":false},"axis":null},
  "y":{"field":"price","type":"quantitative","scale":{"domain":[3187.2,3442.3],"nice":false,"zero":false},"axis":null}}},
{"data":{"name":"mag"},"mark":{"type":"point","shape":"circle","size":130,"filled":true,"color":"#f6c4f6","opacity":1},
 "encoding":{"x":{"field":"bar","type":"quantitative","scale":{"domain":[0,385.75],"nice":false,"zero":false},"axis":null},
  "y":{"field":"price","type":"quantitative","scale":{"domain":[3187.2,3442.3],"nice":false,"zero":false},"axis":null}}},
{"data":{"name":"mag"},"mark":{"type":"point","shape":"circle","size":60,"filled":true,"color":"#dd10dd","opacity":1},
 "encoding":{"x":{"field":"bar","type":"quantitative","scale":{"domain":[0,385.75],"nice":false,"zero":false},"axis":null},
  "y":{"field":"price","type":"quantitative","scale":{"domain":[3187.2,3442.3],"nice":false,"zero":false},"axis":null}}},
{"data":{"name":"mag"},"mark":{"type":"point","shape":"circle","size":9,"filled":true,"color":"#1a001a","opacity":1},
 "encoding":{"x":{"field":"bar","type":"quantitative","scale":{"domain":[0,385.75],"nice":false,"zero":false},"axis":null},
  "y":{"field":"price","type":"quantitative","scale":{"domain":[3187.2,3442.3],"nice":false,"zero":false},"axis":null}}},
{"data":{"name":"tags"},"mark":{"type":"tick","orient":"horizontal","size":38,"thickness":10,"opacity":1},
 "encoding":{"x":{"datum":391,"type":"quantitative","scale":{"domain":[0,385.75],"nice":false,"zero":false},"axis":null},
  "y":{"field":"price","type":"quantitative","scale":{"domain":[3187.2,3442.3],"nice":false,"zero":false},"axis":null},
  "color":{"condition":{"test":"datum.kind == 'bid'","value":"#2f4646"},"value":"#2ec82e"}}},
{"data":{"name":"tags"},"mark":{"type":"text","align":"left","baseline":"middle","font":"Liberation Sans","fontSize":9.5,"color":"#ffffff"},
 "encoding":{"x":{"datum":387.2,"type":"quantitative","scale":{"domain":[0,385.75],"nice":false,"zero":false},"axis":null},
  "y":{"field":"price","type":"quantitative","scale":{"domain":[3187.2,3442.3],"nice":false,"zero":false},"axis":null},
  "text":{"field":"label"}}},
{"data":{"name":"title"},"mark":{"type":"point","shape":"triangle-down","size":22,"filled":true,"color":"#1a1a1a","opacity":1},
 "encoding":{"x":{"datum":1.0,"type":"quantitative","scale":{"domain":[0,385.75],"nice":false,"zero":false},"axis":null},
  "y":{"datum":3438.3,"type":"quantitative","scale":{"domain":[3187.2,3442.3],"nice":false,"zero":false},"axis":null}}},
{"data":{"name":"title"},"mark":{"type":"text","align":"left","baseline":"middle","font":"Liberation Sans","fontSize":9.5,"color":"#1a1a1a"},
 "encoding":{"x":{"datum":2.75,"type":"quantitative","scale":{"domain":[0,385.75],"nice":false,"zero":false},"axis":null},
  "y":{"datum":3438.3,"type":"quantitative","scale":{"domain":[3187.2,3442.3],"nice":false,"zero":false},"axis":null},
  "text":{"field":"label"}}},
{"data":{"name":"mark"},"mark":{"type":"text","align":"right","baseline":"alphabetic","font":"Liberation Sans","fontSize":49,"fill":"#8c8c8c","stroke":"#f4f4f4","strokeWidth":1.2},
 "encoding":{"x":{"datum":390.75,"type":"quantitative","scale":{"domain":[0,385.75],"nice":false,"zero":false},"axis":null},
  "y":{"datum":3192.0,"type":"quantitative","scale":{"domain":[3187.2,3442.3],"nice":false,"zero":false},"axis":null},
  "text":{"field":"label"}}}
]
}
